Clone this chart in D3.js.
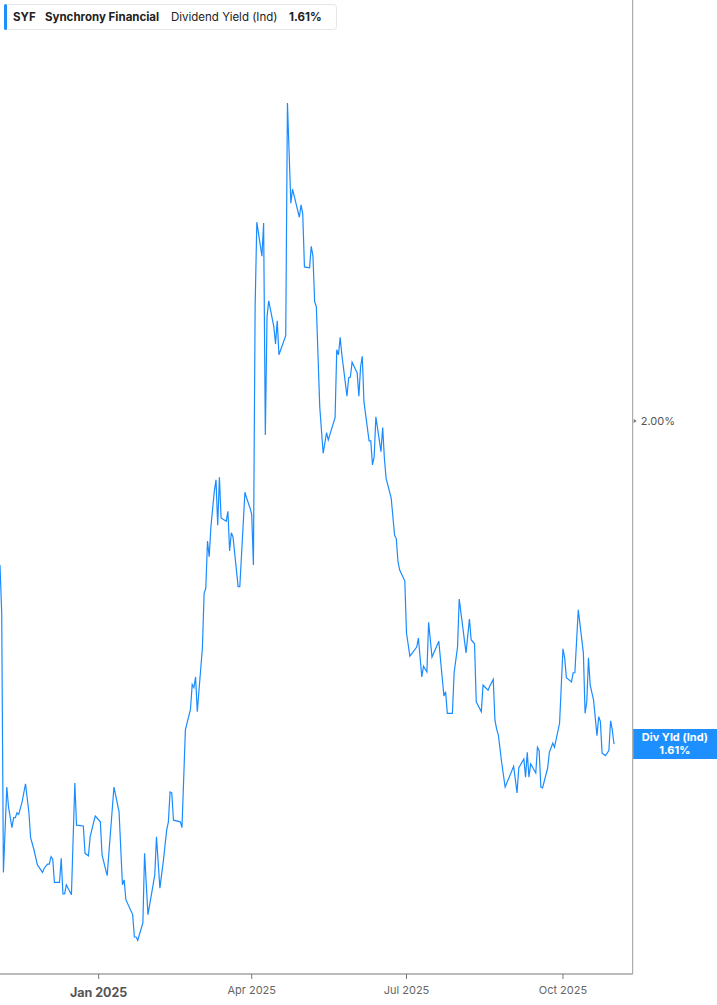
<!DOCTYPE html>
<html>
<head>
<meta charset="utf-8">
<script src="https://cdn.jsdelivr.net/npm/d3@7/dist/d3.min.js"></script>
<style>
    body { margin: 0; background: #fff; font-family: Inter, "Liberation Sans", Arial, sans-serif; }
    .line { fill: none; stroke: #1a8cff; stroke-width: 1.2px; }
</style>
</head>
<body>
<div class="chart"></div>
<script>
// SYF dividend yield (ind)
var ticker = "SYF";
var company = "Synchrony Financial";
var seriesName = "Dividend Yield (Ind)";
var lastValue = 1.61;

var dates = [
    "2024-11-04","2024-11-05","2024-11-06","2024-11-08","2024-11-09","2024-11-11","2024-11-12","2024-11-13","2024-11-14","2024-11-15",
    "2024-11-17","2024-11-19","2024-11-21","2024-11-22","2024-11-24","2024-11-26","2024-11-27","2024-11-29","2024-11-30","2024-12-02",
    "2024-12-03","2024-12-04","2024-12-05","2024-12-06","2024-12-09","2024-12-10","2024-12-11","2024-12-12","2024-12-13","2024-12-16",
    "2024-12-18","2024-12-19","2024-12-23","2024-12-24","2024-12-26","2024-12-27","2024-12-29","2024-12-30","2025-01-02","2025-01-03",
    "2025-01-06","2025-01-10","2025-01-13","2025-01-15","2025-01-16","2025-01-17","2025-01-21","2025-01-22","2025-01-23","2025-01-24",
    "2025-01-27","2025-01-28","2025-01-30","2025-02-03","2025-02-04","2025-02-06","2025-02-08","2025-02-10","2025-02-11","2025-02-12",
    "2025-02-13","2025-02-14","2025-02-18","2025-02-19","2025-02-21","2025-02-24","2025-02-25","2025-02-26","2025-02-27","2025-02-28",
    "2025-03-03","2025-03-04","2025-03-05","2025-03-06","2025-03-07","2025-03-08","2025-03-10","2025-03-11","2025-03-12","2025-03-13",
    "2025-03-14","2025-03-17","2025-03-18","2025-03-19","2025-03-20","2025-03-21","2025-03-24","2025-03-25","2025-03-28","2025-03-29",
    "2025-03-31","2025-04-01","2025-04-02","2025-04-03","2025-04-04","2025-04-07","2025-04-08","2025-04-09","2025-04-10","2025-04-11",
    "2025-04-14","2025-04-15","2025-04-16","2025-04-17","2025-04-21","2025-04-22","2025-04-24","2025-04-25","2025-04-29","2025-04-30",
    "2025-05-01","2025-05-02","2025-05-05","2025-05-06","2025-05-07","2025-05-08","2025-05-09","2025-05-11","2025-05-13","2025-05-15",
    "2025-05-16","2025-05-20","2025-05-21","2025-05-22","2025-05-23","2025-05-24","2025-05-27","2025-05-28","2025-05-29","2025-05-30",
    "2025-06-02","2025-06-03","2025-06-04","2025-06-05","2025-06-06","2025-06-09","2025-06-10","2025-06-11","2025-06-12","2025-06-13",
    "2025-06-16","2025-06-17","2025-06-18","2025-06-19","2025-06-22","2025-06-24","2025-06-25","2025-06-26","2025-06-27","2025-06-30",
    "2025-07-01","2025-07-03","2025-07-07","2025-07-08","2025-07-10","2025-07-11","2025-07-13","2025-07-14","2025-07-16","2025-07-20",
    "2025-07-23","2025-07-24","2025-07-25","2025-07-28","2025-07-29","2025-07-31","2025-08-01","2025-08-05","2025-08-07","2025-08-08",
    "2025-08-10","2025-08-11","2025-08-14","2025-08-15","2025-08-18","2025-08-19","2025-08-21","2025-08-22","2025-08-23","2025-08-24",
    "2025-08-26","2025-08-28","2025-09-02","2025-09-04","2025-09-05","2025-09-08","2025-09-09","2025-09-10","2025-09-11","2025-09-12",
    "2025-09-15","2025-09-16","2025-09-17","2025-09-18","2025-09-19","2025-09-22","2025-09-23","2025-09-25","2025-09-26","2025-09-29",
    "2025-10-01","2025-10-02","2025-10-03","2025-10-06","2025-10-07","2025-10-08","2025-10-10","2025-10-13","2025-10-14","2025-10-15",
    "2025-10-16","2025-10-17","2025-10-19","2025-10-21","2025-10-22","2025-10-23","2025-10-24","2025-10-26","2025-10-28","2025-10-29",
    "2025-10-30","2025-10-31"
];

var yields = [
    1.826,1.768,1.455,1.558,1.534,1.509,1.521,1.521,1.527,1.525,
    1.540,1.562,1.527,1.497,1.482,1.464,1.461,1.455,1.460,1.465,
    1.465,1.474,1.471,1.443,1.443,1.472,1.429,1.429,1.440,1.428,
    1.563,1.512,1.511,1.478,1.475,1.498,1.515,1.523,1.516,1.476,
    1.451,1.558,1.528,1.440,1.446,1.422,1.404,1.377,1.377,1.373,
    1.394,1.478,1.404,1.452,1.498,1.436,1.468,1.506,1.516,1.552,
    1.551,1.518,1.516,1.509,1.627,1.652,1.682,1.678,1.691,1.649,
    1.726,1.792,1.798,1.855,1.836,1.872,1.915,1.929,1.874,1.932,
    1.883,1.879,1.891,1.843,1.865,1.860,1.800,1.800,1.914,1.907,
    1.895,1.887,1.826,2.138,2.240,2.199,2.239,1.983,2.126,2.145,
    2.114,2.093,2.121,2.080,2.103,2.384,2.263,2.280,2.246,2.261,
    2.250,2.186,2.185,2.211,2.199,2.144,2.138,2.017,1.961,1.986,
    1.977,2.004,2.086,2.080,2.101,2.080,2.030,2.052,2.053,2.071,
    2.058,2.030,2.065,2.078,2.023,1.976,1.976,1.947,1.957,2.005,
    1.963,1.992,1.955,1.931,1.907,1.862,1.858,1.830,1.820,1.807,
    1.744,1.716,1.727,1.738,1.691,1.704,1.697,1.757,1.715,1.734,
    1.668,1.673,1.647,1.647,1.696,1.727,1.785,1.720,1.761,1.736,
    1.731,1.661,1.649,1.681,1.675,1.680,1.688,1.639,1.628,1.621,
    1.587,1.558,1.583,1.551,1.581,1.592,1.570,1.600,1.570,1.586,
    1.575,1.606,1.602,1.558,1.557,1.581,1.600,1.611,1.606,1.635,
    1.725,1.714,1.690,1.685,1.696,1.696,1.772,1.720,1.647,1.661,
    1.714,1.681,1.663,1.620,1.643,1.637,1.599,1.596,1.602,1.638,
    1.627,1.610
];

var xTickDates = ["2025-01-01","2025-04-01","2025-07-01","2025-10-01"];
var xTickLabels = ["Jan 2025","Apr 2025","Jul 2025","Oct 2025"];
var yTickValues = [2.00];

var parse = d3.timeParse("%Y-%m-%d");
var data = [];
dates.forEach(function (d, i) {
    data.push({ "date": parse(d), "value": yields[i] });
});

var W = 717, H = 1005;
var plotW = 632.7, plotH = 974;

var svg = d3.select(".chart").append("svg")
    .attr("width", W)
    .attr("height", H);

// scales
var x = d3.scaleTime()
    .domain([parse("2024-11-04"), parse("2025-11-11")])
    .range([0, plotW]);
var y = d3.scaleLinear()
    .domain([1.3323, 2.5083])
    .range([plotH, 0]);

// frame: bottom + right border
svg.append("line")
    .attr("x1", 0).attr("x2", plotW)
    .attr("y1", plotH).attr("y2", plotH)
    .attr("stroke", "#a6a6a6").attr("stroke-width", 1.5);
svg.append("line")
    .attr("x1", plotW).attr("x2", plotW)
    .attr("y1", 0).attr("y2", plotH)
    .attr("stroke", "#9a9a9a").attr("stroke-width", 1);

// the line
var valueline = d3.line()
    .x(function (d) { return x(d.date); })
    .y(function (d) { return y(d.value); });

svg.append("path")
    .data([data])
    .attr("class", "line")
    .attr("d", valueline);

// x axis ticks
var xt = svg.append("g");
xTickDates.forEach(function (d, i) {
    var px = x(parse(d));
    xt.append("line")
        .attr("x1", px).attr("x2", px)
        .attr("y1", plotH).attr("y2", plotH + 5)
        .attr("stroke", "#777").attr("stroke-width", 1);
    var isYear = xTickLabels[i].indexOf("Jan") === 0;
    xt.append("text")
        .attr("x", px)
        .attr("y", isYear ? 997 : 994)
        .attr("text-anchor", "middle")
        .attr("font-size", isYear ? 12.5 : 11)
        .attr("font-weight", isYear ? 700 : 400)
        .attr("fill", isYear ? "#555" : "#666")
        .text(xTickLabels[i]);
});

// y axis (right)
var yt = svg.append("g");
yTickValues.forEach(function (v) {
    var py = y(v);
    yt.append("path")
        .attr("d", "M" + (plotW + 1) + "," + (py - 2) + "L" + (plotW + 4) + "," + py + "L" + (plotW + 1) + "," + (py + 2) + "Z")
        .attr("fill", "#777");
    yt.append("text")
        .attr("x", plotW + 8)
        .attr("y", py + 4)
        .attr("font-size", 11)
        .attr("fill", "#555")
        .text(v.toFixed(2) + "%");
});

// last value badge
var by = y(lastValue);
svg.append("rect")
    .attr("x", plotW + 0.5).attr("y", by - 15)
    .attr("width", W - plotW).attr("height", 30)
    .attr("fill", "#1e8fff");
svg.append("text")
    .attr("x", (plotW + W) / 2).attr("y", by - 3)
    .attr("text-anchor", "middle")
    .attr("font-size", 11).attr("font-weight", 700)
    .attr("fill", "#fff")
    .text("Div Yld (Ind)");
svg.append("text")
    .attr("x", (plotW + W) / 2).attr("y", by + 10)
    .attr("text-anchor", "middle")
    .attr("font-size", 11).attr("font-weight", 700)
    .attr("fill", "#fff")
    .text(lastValue.toFixed(2) + "%");

// legend box
var lg = svg.append("g");
lg.append("rect")
    .attr("x", 4.5).attr("y", 4.5)
    .attr("width", 332).attr("height", 25)
    .attr("rx", 3)
    .attr("fill", "#fff")
    .attr("stroke", "#e6e6e6");
lg.append("rect")
    .attr("x", 4).attr("y", 4)
    .attr("width", 3).attr("height", 26)
    .attr("rx", 1.5)
    .attr("fill", "#1e8fff");
var lt = lg.append("text")
    .attr("x", 13).attr("y", 21)
    .attr("font-size", 11.5)
    .attr("fill", "#222");
lt.append("tspan").attr("font-weight", 700).text(ticker);
lt.append("tspan").attr("x", 45).attr("font-weight", 700).text(company);
lt.append("tspan").attr("x", 171).attr("font-weight", 400).text(seriesName);
lt.append("tspan").attr("x", 289).attr("font-weight", 700).text(lastValue.toFixed(2) + "%");
</script>
</body>
</html>
